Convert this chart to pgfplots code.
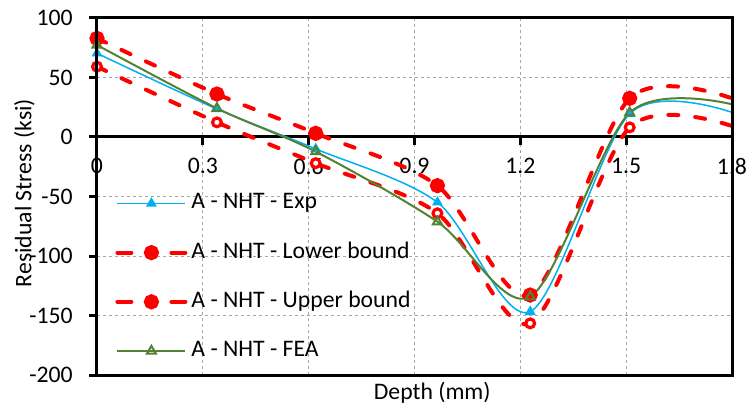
\documentclass[border=0pt]{standalone}
\usepackage{fontspec}
\setmainfont{Carlito}
\usepackage{pgfplots}
\pgfplotsset{compat=1.18}
\definecolor{expblue}{RGB}{0,176,240}
\definecolor{feagreen}{RGB}{84,130,53}
\definecolor{bndred}{RGB}{255,0,0}
\begin{document}
\fontsize{11.9}{14.3}\selectfont
\begin{tikzpicture}
\begin{axis}[
  scale only axis, width=317.5bp, height=178.5bp,
  xmin=0, xmax=1.8, ymin=-200, ymax=100,
  xtick={0,0.3,0.6,0.9,1.2,1.5,1.8},
  ytick={-200,-150,-100,-50,0,50,100},
  axis x line*=middle, axis y line*=left,
  hide obscured x ticks=false, hide obscured y ticks=false,
  axis line style={line width=1.5bp, black},
  tick align=outside,
  major tick length=4bp,
  every tick/.style={black, line width=1.5bp},
  grid=major,
  grid style={gray!70, line width=0.5bp, dash pattern=on 1.5bp off 1.5bp},
  /pgf/number format/assume math mode=true,
  ticklabel style={font=\fontsize{11.9}{14.3}\selectfont},
  yticklabel style={anchor=east, inner sep=0pt, xshift=-8bp},
  xticklabel style={anchor=north, inner sep=0pt, yshift=-6.5bp},
  xlabel={Depth (mm)}, ylabel={Residual Stress (ksi)},
  xlabel style={at={(axis description cs:0.528,-0.07)}, anchor=base, inner sep=0pt},
  ylabel style={at={(axis description cs:-0.0976,0.51)}, anchor=south, inner sep=0pt},
  legend style={draw=none, fill=none, inner sep=0pt, outer sep=0pt,
    at={(axis description cs:0.029,0.51)}, anchor=north west,
    row sep=14.1bp,
    nodes={inner sep=0pt, text height=8bp, text depth=2.5bp},
    /tikz/every odd column/.style={column sep=2bp}},
  legend cell align=left,
  legend image code/.code={\draw[#1, mark repeat=2, mark phase=2] plot coordinates {(0bp,0bp) (17bp,0bp) (34bp,0bp)};},
  after end axis/.code={\draw[line width=1.5bp, black] (rel axis cs:0,0) rectangle (rel axis cs:1,1);},
]
% Exp
\addplot[expblue, line width=0.75bp, smooth, tension=0.5, mark=triangle*, mark size=2.4bp,
  mark indices={1,2,3,4,5,6}, forget plot] coordinates {
  (0,70.3) (0.34,23.5) (0.62,-10) (0.965,-54.9) (1.228,-146.8) (1.51,19.5) (1.8,20.7)};
% lower bound
\addplot[bndred, line width=2bp, line cap=round, dash pattern=on 5bp off 8.5bp, smooth, tension=0.5,
  mark=*, mark size=2.2bp, mark options={solid, fill=white, line width=1.6bp},
  mark indices={1,2,3,4,5,6}, forget plot] coordinates {
  (0,59.1) (0.34,12.3) (0.62,-22) (0.965,-64.1) (1.228,-156.6) (1.51,8.1) (1.8,9.2)};
% upper bound
\addplot[bndred, line width=2bp, line cap=round, dash pattern=on 5bp off 8.5bp, smooth, tension=0.5,
  mark=*, mark size=2.8bp, mark options={solid},
  mark indices={1,2,3,4,5,6}, forget plot] coordinates {
  (0,82.9) (0.34,36.1) (0.62,3.1) (0.965,-40.9) (1.228,-132.8) (1.51,32.5) (1.8,32.5)};
% FEA
\addplot[feagreen, line width=1bp, smooth, tension=0.5, mark=triangle, mark size=2.6bp,
  mark options={solid, fill=white, line width=1bp},
  mark indices={1,2,3,4,5,6}, forget plot] coordinates {
  (0,77.3) (0.34,24.1) (0.62,-12.3) (0.965,-71.2) (1.228,-134.2) (1.51,20.4) (1.8,27.5)};

\addlegendimage{expblue, line width=0.75bp, mark=triangle*, mark size=2.4bp}
\addlegendentry{A - NHT - Exp}
\addlegendimage{bndred, line width=2bp, line cap=round, dash pattern=on 7bp off 20bp, mark=*, mark size=2.8bp, mark options={solid}}
\addlegendentry{A - NHT - Lower bound}
\addlegendimage{bndred, line width=2bp, line cap=round, dash pattern=on 7bp off 20bp, mark=*, mark size=2.8bp, mark options={solid}}
\addlegendentry{A - NHT - Upper bound}
\addlegendimage{feagreen, line width=1bp, mark=triangle, mark size=2.6bp, mark options={solid, fill=white}}
\addlegendentry{A - NHT - FEA}
\end{axis}
\pgfresetboundingbox
\path[use as bounding box] ([shift={(-48.5bp,-14bp)}]current axis.south west) rectangle ([shift={(10.5bp,9bp)}]current axis.north east);
\end{tikzpicture}
\end{document}
